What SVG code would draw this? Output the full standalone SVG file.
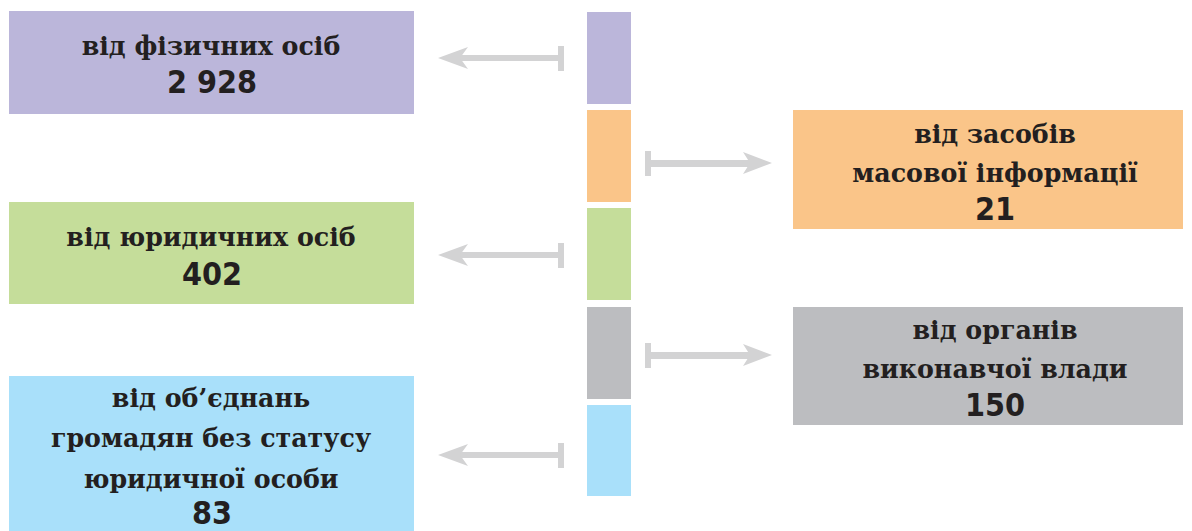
<svg xmlns="http://www.w3.org/2000/svg" width="1192" height="531" viewBox="0 0 1192 531">
<defs>
<style>
.t{font-family:"DejaVu Serif","Liberation Serif",serif;font-weight:bold;font-size:25.3px;fill:#231f20;text-anchor:middle}
.n{font-family:"DejaVu Sans Condensed","DejaVu Sans","Liberation Sans",sans-serif;font-stretch:condensed;font-weight:bold;font-size:32px;fill:#231f20;text-anchor:middle}
.a{fill:#d3d3d4}
</style>
</defs>
<rect width="1192" height="531" fill="#ffffff"/>
<g id="column">
<rect x="587" y="12" width="44" height="92" fill="#bbb6da"/>
<rect x="587" y="110" width="44" height="92" fill="#fac589"/>
<rect x="587" y="208" width="44" height="92" fill="#c5dd9a"/>
<rect x="587" y="307" width="44" height="92" fill="#bcbdc0"/>
<rect x="587" y="405" width="44" height="91" fill="#a9e0fa"/>
</g>
<g id="n1">
<rect x="9" y="11" width="405" height="103" fill="#bbb6da"/>
<text class="t" x="211" y="55">від фізичних осіб</text>
<text class="n" x="212" y="93">2 928</text>
</g>
<g id="n2">
<rect x="9" y="202" width="405" height="102" fill="#c5dd9a"/>
<text class="t" x="211" y="246">від юридичних осіб</text>
<text class="n" x="212" y="285">402</text>
</g>
<g id="n3">
<rect x="9" y="376" width="405" height="155" fill="#a9e0fa"/>
<text class="t" x="211" y="407">від об’єднань</text>
<text class="t" x="211" y="447">громадян без статусу</text>
<text class="t" x="211" y="488">юридичної особи</text>
<text class="n" x="212" y="524">83</text>
</g>
<g id="n4">
<rect x="793" y="110" width="390" height="119" fill="#fac589"/>
<text class="t" x="995" y="143">від засобів</text>
<text class="t" x="995" y="182">масової інформації</text>
<text class="n" x="995" y="220">21</text>
</g>
<g id="n5">
<rect x="793" y="307" width="390" height="118" fill="#bcbdc0"/>
<text class="t" x="995" y="339">від органів</text>
<text class="t" x="995" y="378">виконавчої влади</text>
<text class="n" x="995" y="416">150</text>
</g>
<g id="connectors">
<g class="a">
<rect x="558" y="46" width="6" height="25"/><rect x="460" y="55" width="100" height="6"/><polygon points="438,58 468,47 460,58 468,69"/>
<rect x="558" y="243" width="6" height="25"/><rect x="460" y="252" width="100" height="6"/><polygon points="438,255 468,244 460,255 468,266"/>
<rect x="558" y="443" width="6" height="25"/><rect x="460" y="452" width="100" height="6"/><polygon points="438,455 468,444 460,455 468,466"/>
<rect x="645" y="151" width="6" height="25"/><rect x="648" y="160" width="102" height="7"/><polygon points="772,163 743,152 750,163 743,174"/>
<rect x="645" y="343" width="6" height="25"/><rect x="648" y="352" width="102" height="7"/><polygon points="772,355 743,344 750,355 743,366"/>
</g>
</g>
</svg>
